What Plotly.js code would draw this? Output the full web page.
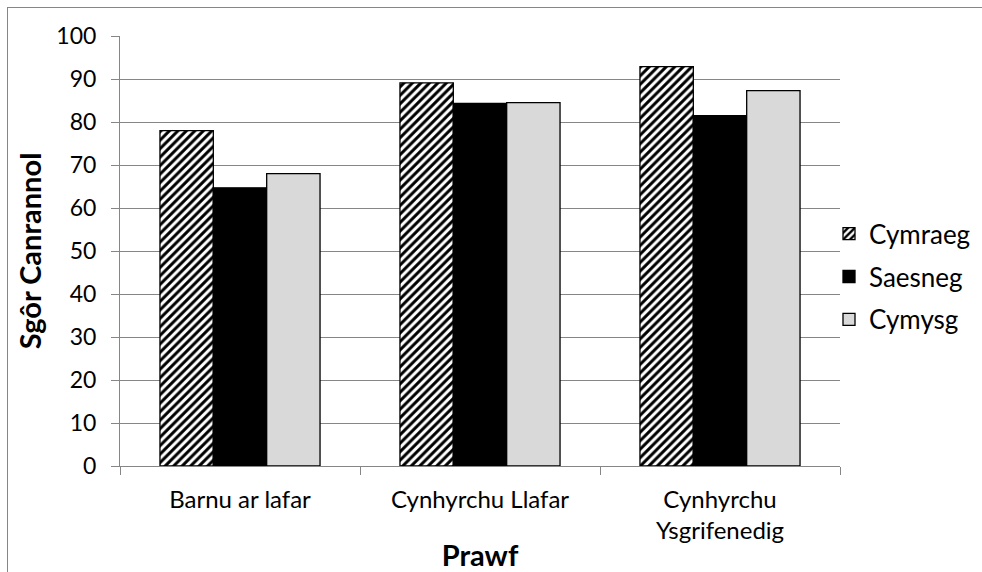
<!DOCTYPE html>
<html>
<head>
<meta charset="utf-8">
<script src="https://cdn.plot.ly/plotly-3.0.1.min.js"></script>
<style>
html,body{margin:0;padding:0;background:#fff;overflow:hidden;}
#wrap{position:relative;width:982px;height:572px;overflow:hidden;}
#frame{position:absolute;left:7px;top:7px;width:1000px;height:600px;border-left:1px solid #868686;border-top:1px solid #868686;pointer-events:none;z-index:5;}
#chart{position:absolute;left:0;top:0;width:1000px;height:572px;}
</style>
</head>
<body>
<div id="wrap"><div id="chart"></div><div id="frame"></div></div>
<script>
const categories = ["Barnu ar lafar", "Cynhyrchu Llafar", "Cynhyrchu<br>Ysgrifenedig"];
const seriesNames = ["Cymraeg", "Saesneg", "Cymysg"];
const cymraeg = [78.0, 89.1, 92.9];
const saesneg = [64.7, 84.3, 81.5];
const cymysg = [68.0, 84.5, 87.3];
const yTicks = [0,10,20,30,40,50,60,70,80,90,100];

const FONT = "Lato, 'Open Sans', sans-serif";
const traces = [
  {type:'bar', name:seriesNames[0], x:categories, y:cymraeg, legendgroup:'a',
   marker:{color:'#ffffff', line:{color:'#000', width:1.3},
     pattern:{shape:'/', fgcolor:'#000', bgcolor:'#fff', size:6, solidity:0.5, fillmode:'replace'}}},
  {type:'bar', name:seriesNames[1], x:categories, y:saesneg, legendgroup:'b',
   marker:{color:'#000000', line:{color:'#000', width:1.3}}},
  {type:'bar', name:seriesNames[2], x:categories, y:cymysg, legendgroup:'c',
   marker:{color:'#d9d9d9', line:{color:'#000', width:1.3}}}
];
// plot area: x from 120 to 840 px, y from 36 to 466 px (figure is 1000 wide, clipped to 982)
const layout = {
  width:1000, height:572,
  margin:{l:120, r:160, t:36, b:106},
  paper_bgcolor:'#fff', plot_bgcolor:'#fff',
  font:{family:FONT, color:'#000', size:23},
  barmode:'group', bargap:0.333, bargroupgap:0,
  showlegend:true,
  legend:{x:(829-120)/720, y:0.44, yanchor:'middle', xanchor:'left',
          font:{size:26, family:FONT}, traceorder:'grouped', tracegroupgap:6,
          itemwidth:30, bgcolor:'rgba(0,0,0,0)'},
  xaxis:{type:'category', showline:true, linecolor:'#868686', linewidth:1,
         ticks:'outside', tickson:'boundaries', ticklen:8, tickcolor:'#868686',
         tickfont:{size:24}, showgrid:false, zeroline:false, ticklabelstandoff:12,
         title:{text:'<b>Prawf</b>', font:{size:29}, standoff:2}},
  yaxis:{range:[0,100], tickvals:yTicks, ticktext:yTicks.map(String),
         showline:true, linecolor:'#868686', linewidth:1,
         ticks:'outside', ticklen:8, tickcolor:'#868686',
         showgrid:true, gridcolor:'#868686', gridwidth:1, zeroline:false,
         tickfont:{size:23}, ticklabelstandoff:10,
         title:{text:'<b>Sgôr Canrannol</b>', font:{size:29}, standoff:6}}
};
Plotly.newPlot('chart', traces, layout, {displayModeBar:false, staticPlot:true});
</script>
</body>
</html>
